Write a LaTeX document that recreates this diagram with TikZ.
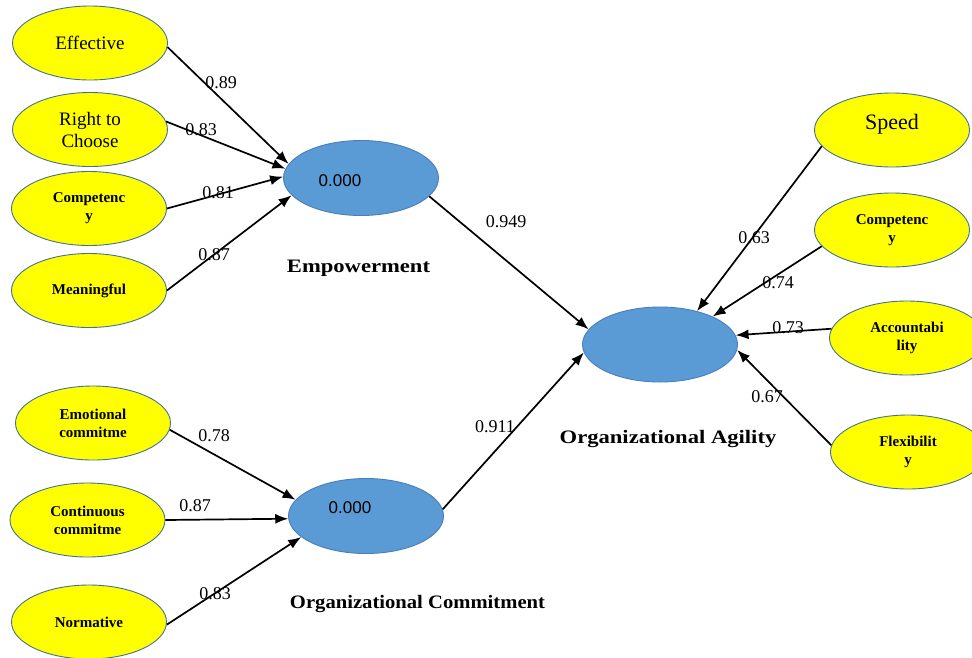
\documentclass[tikz,border=0pt]{standalone}
\usepackage{fontspec}
\usepackage{graphicx}
\setmainfont{Liberation Serif}
\newfontfamily\arialf{Liberation Sans}
\usetikzlibrary{shapes.geometric,arrows.meta}
\definecolor{ylw}{HTML}{FFFF00}
\definecolor{ylwborder}{HTML}{41719C}
\definecolor{bluefill}{HTML}{5B9BD5}
\definecolor{blueborder}{HTML}{4A7EBB}
\tikzset{
  indic/.style={ellipse, draw=ylwborder, line width=0.9pt, fill=ylw, minimum width=155pt, minimum height=74pt, inner sep=0pt, align=center},
  latent/.style={ellipse, draw=blueborder, line width=0.9pt, fill=bluefill, minimum width=155pt, minimum height=75pt, inner sep=0pt},
  smalltxt/.style={font=\fontsize{15}{18}\selectfont\bfseries},
  bigtxt/.style={font=\fontsize{19}{21}\selectfont},
  conn/.style={line width=1.7pt, -{Latex[length=13pt,width=10pt]}},
  coef/.style={font=\fontsize{18}{20}\selectfont, inner sep=0pt},
  zero/.style={font=\arialf\fontsize{17}{19}\selectfont, inner sep=0pt},
  title/.style={font=\fontsize{19}{21}\selectfont\bfseries, inner sep=0pt}
}
\begin{document}
\begin{tikzpicture}[x=1pt,y=-1pt]
\useasboundingbox (0,0) rectangle (972,657);
% left indicators (empowerment)
\node[indic, bigtxt] (eff) at (90,43) {Effective};
\node[indic, bigtxt] (rtc) at (90,129.5) {Right to\\[1pt]Choose};
\node[indic, smalltxt] (comp1) at (89,208.5) {Competenc\\y};
\node[indic, smalltxt] (mean) at (89,290.5) {Meaningful};
% left indicators (commitment)
\node[indic, smalltxt] (emo) at (93,423) {Emotional\\commitme};
\node[indic, smalltxt] (cont) at (87.5,520) {Continuous\\commitme};
\node[indic, smalltxt] (norm) at (89,622) {Normative};
% right indicators (agility)
\node[indic, font=\fontsize{22}{24}\selectfont, text depth=16pt] (speed) at (892,130) {Speed};
\node[indic, smalltxt] (comp2) at (892,230) {Competenc\\y};
\node[indic, smalltxt] (acc) at (907,338) {Accountabi\\lity};
\node[indic, smalltxt] (flex) at (908,452) {Flexibilit\\y};
% latent variables
\node[latent] (emp) at (361,178) {};
\node[latent] (oc) at (366,516) {};
\node[latent] (agi) at (660,344.5) {};
\node[zero] (empval) at (340,181) {0.000};
\node[zero] (ocval) at (350,508) {0.000};
\node[title] (empl) at (358.5,268) {\scalebox{1.19}[1]{Empowerment}};
\node[title] (ocl) at (417.5,604) {\scalebox{1.086}[1]{Organizational Commitment}};
\node[title] (agil) at (668,439) {\scalebox{1.19}[1]{Organizational Agility}};
% connectors
\draw[conn] (eff.-3) -- (emp.169);
\draw[conn] (rtc.6) -- (emp.173);
\draw[conn] (comp1.0) -- (emp.179);
\draw[conn] (mean.0) -- (emp.194);
\draw[conn] (emo.-5) -- (oc.167);
\draw[conn] (cont.0) -- (oc.182);
\draw[conn] (norm.-2) -- (oc.198);
\draw[conn] (emp.-15) -- (agi.168);
\draw[conn] (oc.5) -- (agi.186);
\draw[conn] (speed.193) -- (agi.42);
\draw[conn] (comp2.193) -- (agi.28);
\draw[conn] (acc.173) -- (agi.7);
\draw[conn] (flex.175) -- (agi.-4);
% coefficients
\node[coef] (c1) at (221,83) {0.89};
\node[coef] (c2) at (201,130) {0.83};
\node[coef] (c3) at (218,193) {0.81};
\node[coef] (c4) at (214,255) {0.87};
\node[coef] (c5) at (506,222) {0.949};
\node[coef] (c6) at (495,427) {0.911};
\node[coef] (c7) at (214,436) {0.78};
\node[coef] (c8) at (195,506) {0.87};
\node[coef] (c9) at (215,594) {0.83};
\node[coef] (c10) at (754,238) {0.63};
\node[coef] (c11) at (778,283) {0.74};
\node[coef] (c12) at (788,328) {0.73};
\node[coef] (c13) at (767,397) {0.67};
\end{tikzpicture}
\end{document}
